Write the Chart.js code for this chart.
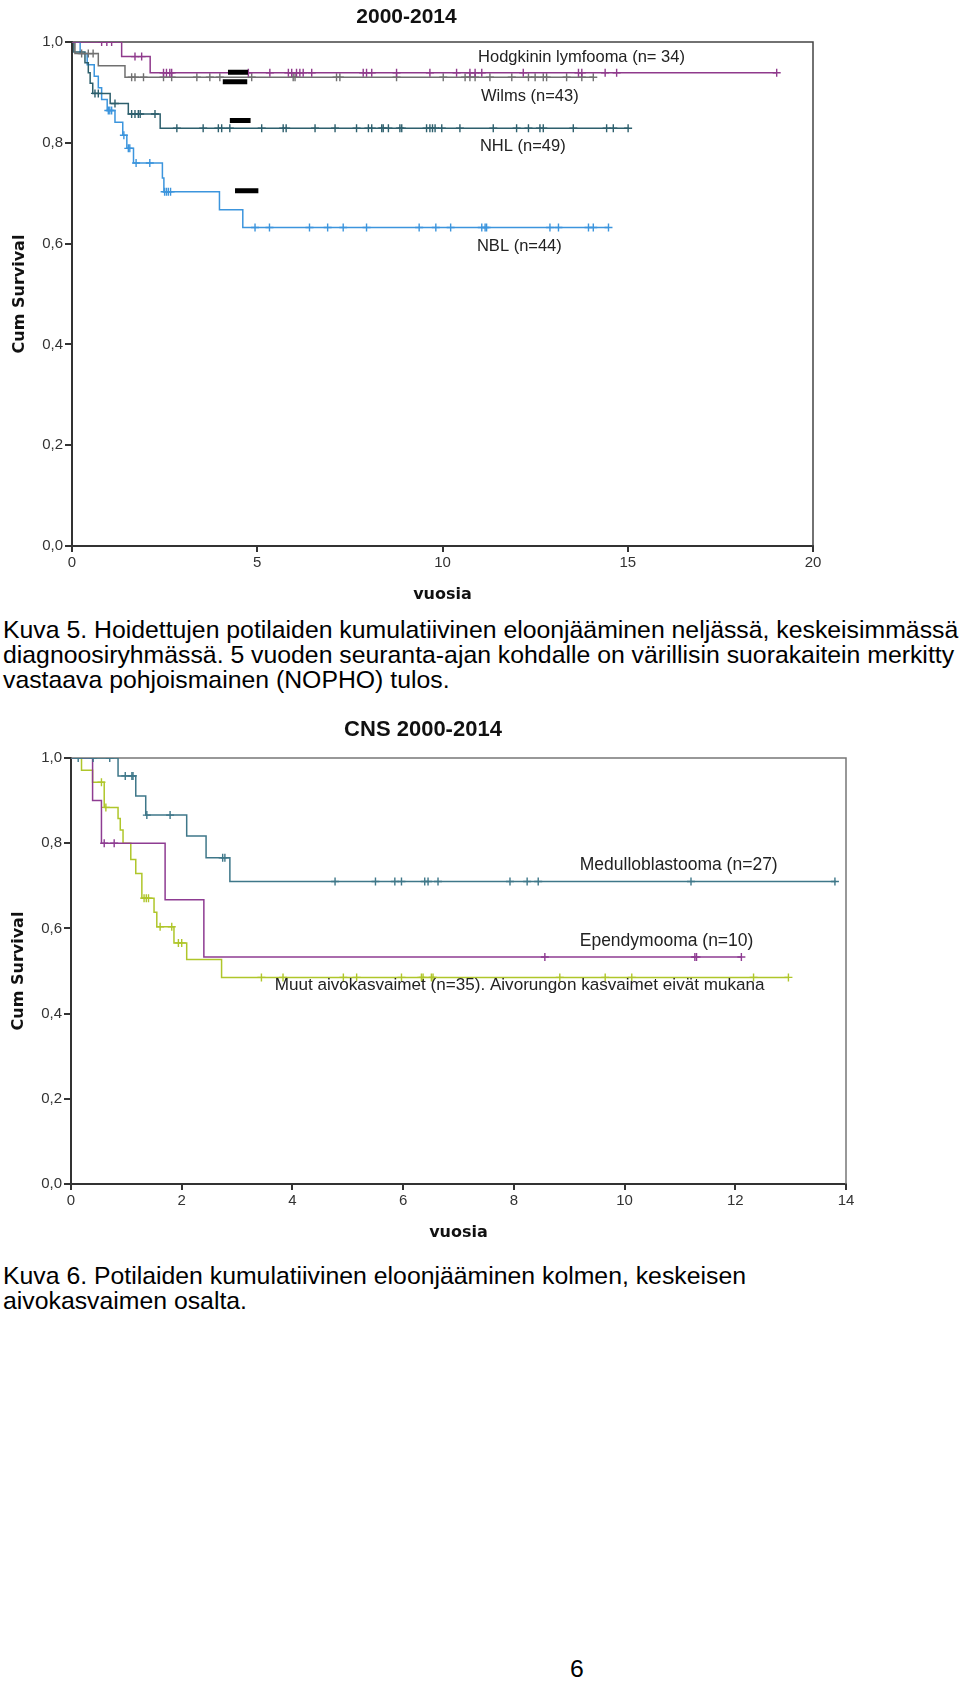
<!DOCTYPE html>
<html lang="fi">
<head>
<meta charset="utf-8">
<title>Kuva 5 ja 6</title>
<script src="https://cdn.jsdelivr.net/npm/chart.js@4.4.1/dist/chart.umd.min.js"></script>
<style>
  html, body { margin: 0; padding: 0; background: #fff; }
  #page { position: relative; width: 960px; height: 1682px; overflow: hidden; background: #fff; }
  #page canvas { position: absolute; left: 0; }
  .caption {
    position: absolute;
    left: 3px;
    font-family: "Liberation Sans", Arial, sans-serif;
    font-size: 24.8px;
    line-height: 25px;
    color: #000;
    white-space: nowrap;
  }
</style>
</head>
<body>
<div id="page">
  <canvas id="allChart" width="830" height="610" style="top:0"></canvas>
  <div class="caption" style="top:617px">Kuva 5. Hoidettujen potilaiden kumulatiivinen eloonjääminen neljässä, keskeisimmässä<br>diagnoosiryhmässä. 5 vuoden seuranta-ajan kohdalle on värillisin suorakaitein merkitty<br>vastaava pohjoismainen (NOPHO) tulos.</div>
  <canvas id="cnsChart" width="860" height="550" style="top:700px"></canvas>
  <div class="caption" style="top:1263px">Kuva 6. Potilaiden kumulatiivinen eloonjääminen kolmen, keskeisen<br>aivokasvaimen osalta.</div>
  <div class="caption" style="top:1656px; left:570px">6</div>
</div>
<script>
// --- Kuva 5: 2000-2014, four diagnosis groups (years, cumulative survival)
const hodgkinTime = [0, 1.34, 2.11, 19.02];
const hodgkinSurv = [1, 0.971, 0.939, 0.939];
const hodgkinCensor = [0.80, 0.94, 1.07, 1.70, 1.88, 2.47, 2.55, 2.64, 2.69, 4.76, 5.34, 5.84, 5.93, 6.06, 6.15, 6.24, 6.47,
  7.86, 7.95, 8.09, 8.76, 9.66, 10.38, 10.74, 10.88, 11.06, 12.18, 13.67, 13.76, 14.39, 14.70, 19.02];

const wilmsTime = [0, 0.08, 0.71, 1.43, 14.07];
const wilmsSurv = [1, 0.977, 0.953, 0.930, 0.930];
const wilmsCensor = [0.26, 0.44, 0.57, 1.61, 1.70, 1.93, 2.47, 2.69, 3.37, 3.72, 3.99, 4.85, 5.97, 6.02, 7.14, 7.23, 8.76,
  10.02, 10.61, 10.74, 10.88, 11.28, 11.87, 12.32, 12.50, 12.72, 12.81, 13.35, 13.76, 14.07];

const nhlTime = [0, 0.05, 0.35, 0.44, 0.49, 0.56, 1.03, 1.52, 2.38, 15.01];
const nhlSurv = [1, 0.980, 0.959, 0.939, 0.918, 0.898, 0.878, 0.857, 0.829, 0.829];
const nhlCensor = [0.62, 0.71, 1.16, 1.61, 1.70, 1.79, 1.84, 2.24, 2.83, 3.54, 3.95, 4.04, 4.26, 5.12, 5.70, 5.78, 6.56,
  7.10, 7.68, 8.00, 8.09, 8.36, 8.40, 8.54, 8.85, 8.90, 9.57, 9.66, 9.73, 9.80, 9.98, 10.47, 11.37, 12.00, 12.32, 12.63,
  12.72, 13.53, 14.43, 14.61, 15.01];

const nblTime = [0, 0.22, 0.41, 0.60, 0.71, 0.80, 0.95, 1.16, 1.37, 1.48, 1.66, 2.44, 2.48, 3.98, 4.61, 14.48];
const nblSurv = [1, 0.977, 0.955, 0.932, 0.909, 0.886, 0.864, 0.841, 0.815, 0.789, 0.760, 0.730, 0.703, 0.667, 0.632, 0.632];
const nblCensor = [0.98, 1.02, 1.07, 1.40, 1.52, 1.56, 1.73, 2.10, 2.50, 2.55, 2.60, 2.66, 4.94, 5.33, 6.41, 6.90, 7.32,
  7.95, 9.37, 9.82, 10.22, 11.06, 11.15, 11.19, 12.90, 13.13, 13.94, 14.07, 14.48];

// NOPHO 5-year reference results (black bars)
const nophoValue = [0.940, 0.921, 0.844, 0.705];
const nophoStart = [4.21, 4.07, 4.26, 4.40];
const nophoEnd = [4.75, 4.73, 4.82, 5.03];

// --- Kuva 6: CNS 2000-2014
const medTime = [0, 0.85, 1.17, 1.35, 2.09, 2.44, 2.87, 13.82];
const medSurv = [1, 0.958, 0.911, 0.866, 0.817, 0.766, 0.710, 0.710];
const medCensor = [0.13, 0.40, 0.70, 0.98, 1.10, 1.12, 1.37, 1.79, 2.74, 2.78, 4.77, 5.50, 5.85, 5.97, 6.39, 6.45, 6.63,
  7.93, 8.24, 8.44, 11.20, 13.80];

const epTime = [0, 0.39, 0.55, 1.70, 2.40, 12.11];
const epSurv = [1, 0.900, 0.800, 0.667, 0.533, 0.533];
const epCensor = [0.60, 0.78, 8.56, 11.27, 11.30, 12.11];

const muutTime = [0, 0.19, 0.39, 0.60, 0.85, 0.89, 0.94, 1.08, 1.17, 1.28, 1.50, 1.55, 1.86, 2.09, 2.72, 12.96];
const muutSurv = [1, 0.971, 0.943, 0.884, 0.858, 0.831, 0.800, 0.762, 0.729, 0.671, 0.638, 0.604, 0.566, 0.527, 0.485, 0.485];
const muutCensor = [0.55, 0.63, 1.32, 1.36, 1.40, 1.61, 1.82, 1.94, 2.00, 3.44, 3.83, 4.92, 5.16, 5.97, 6.33, 6.36, 6.51,
  6.54, 8.83, 9.65, 10.13, 12.33, 12.96];

const tickFont = { family: "'Liberation Sans', Arial, sans-serif", size: 15 };
const axisTitleFont = { family: "'DejaVu Sans', Verdana, sans-serif", size: 16, weight: "bold" };

function commaTick(value) {
  return Number(value).toFixed(1).replace(".", ",");
}

function survivalAt(times, surv, t) {
  let s = surv[0];
  for (let i = 0; i < times.length; i++) {
    if (times[i] <= t) s = surv[i];
  }
  return s;
}

function kmCurve(label, times, surv, color) {
  return {
    label,
    data: times.map((t, i) => ({ x: t, y: surv[i] })),
    showLine: true,
    stepped: "before",
    borderColor: color,
    borderWidth: 1.5,
    pointRadius: 0,
    fill: false
  };
}

function kmCensors(label, censor, times, surv, color) {
  return {
    label: `${label} censored`,
    data: censor.map((t) => ({ x: t, y: survivalAt(times, surv, t) })),
    showLine: false,
    pointStyle: "cross",
    pointRadius: 4,
    pointBorderWidth: 1.4,
    pointBorderColor: color,
    pointBackgroundColor: color
  };
}

function nophoBars() {
  const data = [];
  nophoValue.forEach((v, i) => {
    data.push({ x: nophoStart[i], y: v }, { x: nophoEnd[i], y: v }, { x: nophoEnd[i], y: null });
  });
  return {
    label: "NOPHO",
    data,
    showLine: true,
    spanGaps: false,
    borderColor: "#000",
    borderWidth: 5,
    borderCapStyle: "butt",
    pointRadius: 0
  };
}

function frameBoxPlugin(color, width) {
  return {
    id: "frameBox",
    beforeDatasetsDraw(chart) {
      const { ctx, chartArea } = chart;
      ctx.save();
      ctx.strokeStyle = color;
      ctx.lineWidth = width;
      ctx.beginPath();
      ctx.moveTo(chartArea.left, chartArea.top);
      ctx.lineTo(chartArea.right, chartArea.top);
      ctx.lineTo(chartArea.right, chartArea.bottom);
      ctx.stroke();
      ctx.restore();
    }
  };
}

function groupLabelsPlugin(items, fontSize) {
  return {
    id: "groupLabels",
    afterDatasetsDraw(chart) {
      const { ctx, scales } = chart;
      ctx.save();
      ctx.fillStyle = "#222";
      ctx.textBaseline = "middle";
      ctx.textAlign = "left";
      items.forEach((item) => {
        ctx.font = `${item.size || fontSize}px 'Liberation Sans', Arial, sans-serif`;
        ctx.fillText(item.text, scales.x.getPixelForValue(item.x), scales.y.getPixelForValue(item.y));
      });
      ctx.restore();
    }
  };
}

function buildKmChart(canvas, cfg) {
  return new Chart(canvas, {
    type: "scatter",
    data: { datasets: cfg.datasets },
    plugins: [frameBoxPlugin(cfg.frameColor, 1.5), groupLabelsPlugin(cfg.labels, cfg.labelSize)],
    options: {
      responsive: false,
      animation: false,
      devicePixelRatio: 1,
      layout: { padding: { left: 0, top: 0, right: cfg.padRight, bottom: 0 } },
      plugins: {
        legend: { display: false },
        tooltip: { enabled: false },
        title: {
          display: true,
          text: cfg.title,
          color: "#111",
          font: { family: "'Liberation Sans', Arial, sans-serif", size: cfg.titleSize, weight: "bold" },
          padding: cfg.titlePadding
        }
      },
      scales: {
        x: {
          type: "linear",
          min: 0,
          max: cfg.xMax,
          afterFit(scale) { scale.height = cfg.xAxisHeight; },
          ticks: { stepSize: cfg.xStep, font: tickFont, color: "#333", padding: 2, maxRotation: 0 },
          grid: { drawOnChartArea: false, drawTicks: true, tickLength: 6, color: "#333", lineWidth: 2 },
          border: { display: true, color: "#333", width: 2 },
          title: { display: true, text: "vuosia", color: "#111", font: axisTitleFont, padding: { top: 0, bottom: cfg.xTitlePad } }
        },
        y: {
          type: "linear",
          min: 0,
          max: 1,
          afterFit(scale) { scale.width = cfg.yAxisWidth; },
          ticks: { stepSize: 0.2, font: tickFont, color: "#333", padding: 2, callback: commaTick },
          grid: { drawOnChartArea: false, drawTicks: true, tickLength: 7, color: "#333", lineWidth: 2 },
          border: { display: true, color: "#333", width: 2 },
          title: { display: true, text: "Cum Survival", color: "#111", font: axisTitleFont, padding: { top: cfg.yTitlePad, bottom: 0 } }
        }
      }
    }
  });
}

const hodgkinColor = "#8f3a8c";
const wilmsColor = "#707070";
const nhlColor = "#2d5f6d";
const nblColor = "#3c95dd";

buildKmChart(document.getElementById("allChart"), {
  title: "2000-2014",
  titleSize: 21,
  titlePadding: { top: 4.4, bottom: 12.4 },
  padRight: 17,
  xMax: 20,
  xStep: 5,
  xAxisHeight: 64,
  xTitlePad: 5.4,
  yAxisWidth: 72,
  yTitlePad: 10,
  frameColor: "#444",
  labelSize: 16.5,
  labels: [
    { text: "Hodgkinin lymfooma (n= 34)", x: 10.96, y: 0.970 },
    { text: "Wilms (n=43)", x: 11.04, y: 0.891 },
    { text: "NHL (n=49)", x: 11.01, y: 0.792 },
    { text: "NBL (n=44)", x: 10.93, y: 0.594 }
  ],
  datasets: [
    nophoBars(),
    kmCensors("Hodgkinin lymfooma", hodgkinCensor, hodgkinTime, hodgkinSurv, hodgkinColor),
    kmCurve("Hodgkinin lymfooma", hodgkinTime, hodgkinSurv, hodgkinColor),
    kmCensors("Wilms", wilmsCensor, wilmsTime, wilmsSurv, wilmsColor),
    kmCurve("Wilms", wilmsTime, wilmsSurv, wilmsColor),
    kmCensors("NHL", nhlCensor, nhlTime, nhlSurv, nhlColor),
    kmCurve("NHL", nhlTime, nhlSurv, nhlColor),
    kmCensors("NBL", nblCensor, nblTime, nblSurv, nblColor),
    kmCurve("NBL", nblTime, nblSurv, nblColor)
  ]
});

const medColor = "#3e7789";
const epColor = "#8e3c92";
const muutColor = "#afc62a";

buildKmChart(document.getElementById("cnsChart"), {
  title: "CNS 2000-2014",
  titleSize: 22,
  titlePadding: { top: 16.8, bottom: 14.8 },
  padRight: 14,
  xMax: 14,
  xStep: 2,
  xAxisHeight: 66,
  xTitlePad: 7.4,
  yAxisWidth: 71,
  yTitlePad: 9,
  frameColor: "#777",
  labelSize: 17.5,
  labels: [
    { text: "Medulloblastooma (n=27)", x: 9.19, y: 0.749 },
    { text: "Ependymooma (n=10)", x: 9.19, y: 0.569 },
    { text: "Muut aivokasvaimet (n=35). Aivorungon kasvaimet eivät mukana", x: 3.68, y: 0.467, size: 17.1 }
  ],
  datasets: [
    kmCensors("Medulloblastooma", medCensor, medTime, medSurv, medColor),
    kmCurve("Medulloblastooma", medTime, medSurv, medColor),
    kmCensors("Ependymooma", epCensor, epTime, epSurv, epColor),
    kmCurve("Ependymooma", epTime, epSurv, epColor),
    kmCensors("Muut aivokasvaimet", muutCensor, muutTime, muutSurv, muutColor),
    kmCurve("Muut aivokasvaimet", muutTime, muutSurv, muutColor)
  ]
});
</script>
</body>
</html>
